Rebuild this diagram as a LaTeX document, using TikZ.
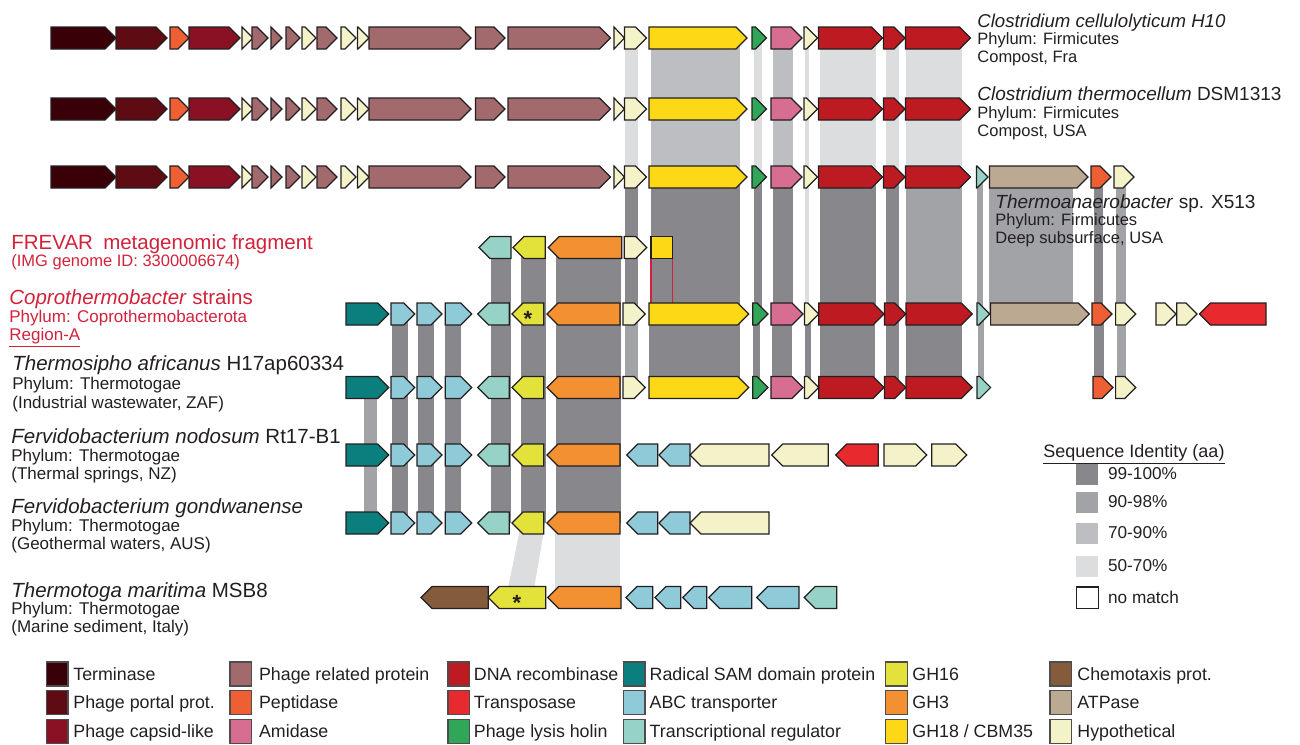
\documentclass[tikz,border=0pt]{standalone}
\usepackage{fontspec}
\setmainfont{Liberation Sans}
\usetikzlibrary{positioning}

% gene colours
\definecolor{terminase}{HTML}{3A0008}
\definecolor{portal}{HTML}{5E0B14}
\definecolor{capsid}{HTML}{8A1123}
\definecolor{phage}{HTML}{A36A6D}
\definecolor{peptidase}{HTML}{EE6034}
\definecolor{amidase}{HTML}{D76D90}
\definecolor{recomb}{HTML}{BE1A22}
\definecolor{transposase}{HTML}{E8292E}
\definecolor{holin}{HTML}{2FA658}
\definecolor{rsam}{HTML}{0B7F7D}
\definecolor{abc}{HTML}{8FCAD8}
\definecolor{transc}{HTML}{97D2C6}
\definecolor{ghsixteen}{HTML}{E2E23B}
\definecolor{ghthree}{HTML}{F29032}
\definecolor{gheighteen}{HTML}{FCD817}
\definecolor{chemo}{HTML}{845C3B}
\definecolor{atpase}{HTML}{BCA992}
\definecolor{hypo}{HTML}{F3F2C8}
% identity colours
\definecolor{b99}{HTML}{88888C}
\definecolor{b90}{HTML}{A2A3A7}
\definecolor{b70}{HTML}{BDBEC1}
\definecolor{b50}{HTML}{DCDDDF}
\definecolor{txt}{HTML}{231F20}
\definecolor{labred}{HTML}{D2223B}

% forward / reverse gene arrows: x1, x2, y, colour
\newcommand{\genef}[4]{%
  \pgfmathsetmacro{\genehead}{min(11,#2-#1)}%
  \filldraw[gene, fill=#4] (#1,#3-11) -- (#2-\genehead,#3-11) -- (#2,#3) -- (#2-\genehead,#3+11) -- (#1,#3+11) -- cycle;}
\newcommand{\gener}[4]{%
  \pgfmathsetmacro{\genehead}{min(11,#2-#1)}%
  \filldraw[gene, fill=#4] (#2,#3-11) -- (#1+\genehead,#3-11) -- (#1,#3) -- (#1+\genehead,#3+11) -- (#2,#3+11) -- cycle;}

\begin{document}
\begin{tikzpicture}[x=0.5pt, y=-0.5pt,
  gene/.style={draw=txt, line width=0.6pt, line join=miter},
  key/.style={draw=txt!80, line width=0.6pt},
  lab/.style={anchor=base west, inner sep=0pt, text=txt, font=\fontsize{9.5}{11}\selectfont},
  sublab/.style={anchor=base west, inner sep=0pt, text=txt, font=\fontsize{8.25}{10}\selectfont},
  leftlab/.style={lab, font=\fontsize{10.25}{12}\selectfont},
  leftsub/.style={sublab, font=\fontsize{8.5}{10}\selectfont},
  keytxt/.style={anchor=base west, inner sep=0pt, text=txt, font=\fontsize{8.9}{10}\selectfont},
  idtxt/.style={keytxt, font=\fontsize{8.6}{10}\selectfont}]
\useasboundingbox (0,0) rectangle (1300,744);

% Identity bands, rows 1-2 and 2-3
\foreach \ya/\yb in {38/109, 109/177} {
  \foreach \xa/\xb/\clr in {624.5/638/b50, 651/740/b70, 754/761.5/b50, 773/793/b70, 805/808.5/b50, 819.5/875.5/b50, 886/899/b50, 906/961.5/b50}
    \fill[\clr] (\xa,\ya) rectangle (\xb,\yb);
}
% row 3 to row 5
\foreach \xa/\xb/\clr in {624.5/638/b99, 651/740/b99, 754/761.5/b99, 773/793/b99, 805/808.5/b50, 819.5/875.5/b99, 886/899/b99, 906/961.5/b90, 976.7/983.3/b90, 989.3/1072.7/b90, 1094/1103.3/b99, 1116/1125.7/b90}
  \fill[\clr] (\xa,177) rectangle (\xb,314);
% row 4 to row 5
\foreach \xa/\xb in {491/511, 521/546, 556/621}
  \fill[b99] (\xa,247.5) rectangle (\xb,314);
\draw[labred, line width=0.6pt] (651,258.5) -- (651,303);
\draw[labred, line width=0.6pt] (672.7,258.5) -- (672.7,303);
% row 5 to row 6
\foreach \xa/\xb/\clr in {392/408/b99, 418/434/b99, 445/460.7/b99, 491/511/b99, 521/546/b99, 556/621/b99, 625/638/b90, 648.5/739.7/b99, 752.7/759.8/b99, 772/792/b99, 805.4/810.7/b99, 819.6/874.5/b99, 886/899/b99, 906/961.6/b99, 978/984/b90, 1094/1104/b99, 1116.5/1125.5/b90}
  \fill[\clr] (\xa,314) rectangle (\xb,387.5);
% rows 6 to 8
\fill[b90] (364,387.5) rectangle (376.7,523);
\foreach \xa/\xb in {392/408, 418/434, 445/460.7, 491/511, 521/546, 556/621}
  \fill[b99] (\xa,387.5) rectangle (\xb,523);
% row 8 to row 9
\fill[b50] (521.2,523) -- (545.2,523) -- (532.5,597.5) -- (506.1,597.5) -- cycle;
\fill[b50] (555,523) rectangle (620,597.5);

% Rows 1-3: phage cluster
\foreach \yy in {38,109,177} {
  \foreach \xa/\xb/\clr in {51/116/terminase, 116/167/portal, 170/189/peptidase, 189/240/capsid, 242/253/hypo, 252/268/phage, 271/282/phage, 286/300/phage, 302/316/hypo, 317/337/phage, 341/356/hypo, 357.5/369/hypo, 369/471/phage, 475.5/505/phage, 508/610.5/phage, 614/624.5/hypo, 624.5/646.5/hypo, 649/747/gheighteen, 752/766.5/holin, 771/802/amidase, 804/817.5/hypo, 818.5/882.5/recomb, 883.5/905/recomb, 905.5/970.5/recomb}
    {\genef{\xa}{\xb}{\yy}{\clr}}
}
\foreach \xa/\xb/\clr in {976.5/988/transc, 989.5/1088/atpase, 1091/1111/peptidase, 1114/1134/hypo}
  {\genef{\xa}{\xb}{177}{\clr}}

% Row 4: FREVAR fragment
\gener{479}{511}{247.5}{transc}
\gener{513}{545.3}{247.5}{ghsixteen}
\gener{548.3}{621.7}{247.5}{ghthree}
\genef{624.3}{646.7}{247.5}{hypo}
\filldraw[gene, fill=gheighteen] (651,236.5) rectangle (672.7,258.5);

% Rows 5-8: shared left part
\foreach \yy in {314,387.5,455,523} {
  \genef{346}{388.7}{\yy}{rsam}
  \genef{391}{414.7}{\yy}{abc}
  \genef{417}{442}{\yy}{abc}
  \genef{445.3}{471.7}{\yy}{abc}
  \gener{477.7}{509.3}{\yy}{transc}
  \gener{512}{543.7}{\yy}{ghsixteen}
  \gener{547}{620}{\yy}{ghthree}
}
% Rows 5-6
\foreach \yy in {314,387.5} {
  \foreach \xa/\xb/\clr in {623/645.3/hypo, 649/748.7/gheighteen, 752.7/767.9/holin, 771/803/amidase, 804.5/818.7/hypo, 818.7/884/recomb, 884.4/905.8/recomb, 906/972.3/recomb, 1115.6/1135.7/hypo}
    {\genef{\xa}{\xb}{\yy}{\clr}}
}
\foreach \xa/\xb/\clr in {977/989.7/transc, 990.6/1089.3/atpase, 1092/1112/peptidase, 1156/1176/hypo, 1176.8/1196.9/hypo}
  {\genef{\xa}{\xb}{314}{\clr}}
\gener{1199.5}{1266}{314}{transposase}
\genef{977}{990.6}{387.5}{transc}
\genef{1093}{1113}{387.5}{peptidase}
\node[font=\fontsize{11}{11}\selectfont\bfseries, text=txt, inner sep=0pt] (star5) at (528,319) {*};

% Rows 7-8
\foreach \yy in {455,523} {
  \gener{626.7}{657.7}{\yy}{abc}
  \gener{659}{690}{\yy}{abc}
  \gener{690}{769}{\yy}{hypo}
}
\gener{771.7}{828.3}{455}{hypo}
\gener{835.7}{878.3}{455}{transposase}
\genef{884}{926.7}{455}{hypo}
\genef{931.7}{966.7}{455}{hypo}

% Row 9: Thermotoga maritima
\foreach \xa/\xb/\clr in {421/488.3/chemo, 488.3/545.7/ghsixteen, 547.7/621/ghthree, 626/652.7/abc, 655/680.7/abc, 682.7/706.7/abc, 708.7/751.7/abc, 756.7/799/abc, 804.3/836.7/transc}
  {\gener{\xa}{\xb}{597.5}{\clr}}
\node[font=\fontsize{11}{11}\selectfont\bfseries, text=txt, inner sep=0pt] (star9) at (517,603) {*};

% Species labels, right
\node[lab, font=\fontsize{9.3}{11}\selectfont] (cc1) at (977,27) {\itshape Clostridium cellulolyticum H10};
\node[sublab] (cc2) at (977,44.5) {Phylum: Firmicutes};
\node[sublab] (cc3) at (977,62.5) {Compost, Fra};
\node[lab] (ct1) at (977,100) {\textit{Clostridium thermocellum} DSM1313};
\node[sublab] (ct2) at (977,118) {Phylum: Firmicutes};
\node[sublab] (ct3) at (977,136) {Compost, USA};
\node[lab] (ta1) at (995,208) {\textit{Thermoanaerobacter} sp. X513};
\node[sublab] (ta2) at (995,225.5) {Phylum: Firmicutes};
\node[sublab] (ta3) at (995,243.5) {Deep subsurface, USA};

% Species labels, left
\node[lab, text=labred, font=\fontsize{10.25}{12}\selectfont] (fr1) at (11,249.5) {FREVAR\enspace metagenomic fragment};
\node[sublab, text=labred] (fr2) at (11,266) {(IMG genome ID: 3300006674)};
\node[leftlab, text=labred] (cp1) at (9,304) {\textit{Coprothermobacter} strains};
\node[leftsub, text=labred] (cp2) at (9,322) {Phylum: Coprothermobacterota};
\node[leftsub, text=labred] (cp3) at (9,340.5) {\underline{Region-A}};
\node[leftlab] (tsa1) at (12,370) {\textit{Thermosipho africanus} H17ap60334};
\node[leftsub] (tsa2) at (12,389.5) {Phylum: Thermotogae};
\node[leftsub] (tsa3) at (12,408) {(Industrial wastewater, ZAF)};
\node[leftlab] (fn1) at (11,443.5) {\textit{Fervidobacterium nodosum} Rt17-B1};
\node[leftsub] (fn2) at (11,461) {Phylum: Thermotogae};
\node[leftsub] (fn3) at (11,479) {(Thermal springs, NZ)};
\node[leftlab] (fg1) at (11,513.5) {\textit{Fervidobacterium gondwanense}};
\node[leftsub] (fg2) at (11,531) {Phylum: Thermotogae};
\node[leftsub] (fg3) at (11,549) {(Geothermal waters, AUS)};
\node[leftlab] (tm1) at (11,597) {\textit{Thermotoga maritima} MSB8};
\node[leftsub] (tm2) at (11,614.5) {Phylum: Thermotogae};
\node[leftsub] (tm3) at (11,632.5) {(Marine sediment, Italy)};

% Sequence identity key
\node[keytxt, font=\fontsize{9}{10}\selectfont] (idtitle) at (1043,457) {\underline{Sequence Identity (aa)}};
\foreach \yy/\clr/\t in {474/b99/99-100\%, 502/b90/90-98\%, 533/b70/70-90\%, 566/b50/50-70\%} {
  \fill[\clr] (1076,\yy-10.5) rectangle (1097.5,\yy+10.5);
  \node[idtxt] (id\clr) at (1107.7,\yy+5.5) {\t};
}
\draw[txt, line width=0.7pt, fill=white] (1076.5,587) rectangle (1098.5,608.5);
\node[idtxt] (idnone) at (1107.7,603) {no match};

% Gene function key
\foreach \xs/\xt/\yy/\clr/\t in {
  46.5/73/674/terminase/Terminase, 46.5/73/702.3/portal/Phage portal prot., 46.5/73/731.7/capsid/Phage capsid-like,
  230/258.7/674/phage/Phage related protein, 230/258.7/702.3/peptidase/Peptidase, 230/258.7/731.7/amidase/Amidase,
  448/473.5/674/recomb/DNA recombinase, 448/473.5/702.3/transposase/Transposase, 448/473.5/731.7/holin/Phage lysis holin,
  623.5/649.3/674/rsam/Radical SAM domain protein, 623.5/649.3/702.3/abc/ABC transporter, 623.5/649.3/731.7/transc/Transcriptional regulator,
  885.6/912/674/ghsixteen/GH16, 885.6/912/702.3/ghthree/GH3, 885.6/912/731.7/gheighteen/{GH18 / CBM35},
  1050/1077/674/chemo/Chemotaxis prot., 1050/1077/702.3/atpase/ATPase, 1050/1077/731.7/hypo/Hypothetical} {
  \filldraw[key, fill=\clr] (\xs,\yy-12) rectangle (\xs+21.5,\yy+12);
  \node[keytxt] (key\clr) at (\xt,\yy+6) {\t};
}
\end{tikzpicture}
\end{document}
